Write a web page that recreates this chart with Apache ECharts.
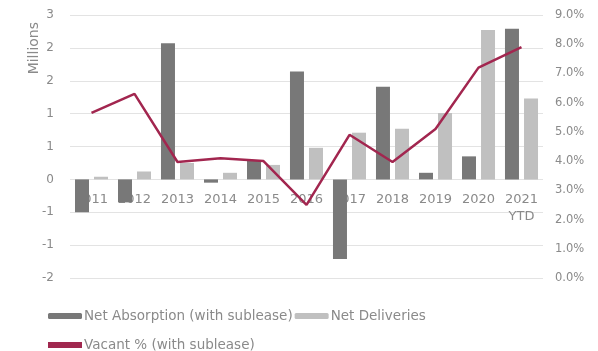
<!DOCTYPE html>
<html>
<head>
<meta charset="utf-8">
<script src="https://cdn.jsdelivr.net/npm/echarts@6/dist/echarts.min.js"></script>
<style>
  html, body { margin: 0; padding: 0; background: #fff; }
  #chart { width: 598px; height: 351px; }
</style>
</head>
<body>
<div id="chart"></div>
<script>
// Office market: absorption and deliveries (millions of sq ft) against vacancy rate
const years = ['2011', '2012', '2013', '2014', '2015', '2016', '2017', '2018', '2019', '2020', '2021\nYTD'];
const netAbsorption = [-0.5, -0.35, 2.07, -0.05, 0.28, 1.64, -1.21, 1.41, 0.1, 0.35, 2.29];
const netDeliveries = [0.04, 0.12, 0.25, 0.1, 0.22, 0.48, 0.71, 0.77, 1.01, 2.27, 1.23];
const vacantPct = [5.65, 6.3, 3.97, 4.1, 4.0, 2.5, 4.9, 3.97, 5.1, 7.2, 7.9];

// Left axis ticks run every half million; their printed labels are whole numbers
const leftTickValues = [2.5, 2, 1.5, 1, 0.5, 0, -0.5, -1, -1.5];
const leftTickLabels = ['3', '2', '2', '1', '1', '0', '-1', '-1', '-2'];

const textColor = '#8a8a8a';
const fontFamily = '"DejaVu Sans", sans-serif';

const W = 598, H = 351;
const gridBox = { left: 70, right: 55, top: 15, bottom: 73 };
const leftMin = -1.5, leftMax = 2.5;
// Lift the category axis so it sits on the zero line of the left axis
const plotHeight = H - gridBox.top - gridBox.bottom;
const zeroLift = -plotHeight * (0 - leftMin) / (leftMax - leftMin);

const chart = echarts.init(document.getElementById('chart'));
chart.setOption({
  animation: false,
  textStyle: { fontFamily: fontFamily },
  grid: gridBox,
  legend: [
    {
      left: 43, top: 304,
      itemWidth: 34, itemHeight: 6, itemGap: 2,
      textStyle: { color: textColor, fontSize: 13.5, padding: [0, 0, 0, -3] },
      data: ['Net Absorption (with sublease)', 'Net Deliveries']
    },
    {
      left: 43, top: 333,
      itemWidth: 34, itemHeight: 6, itemGap: 2,
      textStyle: { color: textColor, fontSize: 13.5, padding: [0, 0, 0, -3] },
      data: [{ name: 'Vacant % (with sublease)', icon: 'rect', itemStyle: { color: '#a0284f' } }]
    }
  ],
  graphic: [{
    type: 'text',
    left: 27, top: 22,
    rotation: Math.PI / 2,
    style: { text: 'Millions', fill: textColor, font: '14px ' + fontFamily }
  }],
  xAxis: {
    type: 'category',
    data: years,
    offset: zeroLift,
    axisLine: { show: false },
    axisTick: { show: false },
    axisLabel: { color: textColor, fontSize: 13, margin: 12, lineHeight: 17, interval: 0 }
  },
  yAxis: [
    {
      type: 'value',
      min: leftMin, max: leftMax, interval: 0.5,
      axisLine: { show: false },
      axisTick: { show: false },
      splitLine: { lineStyle: { color: '#e3e3e3', width: 1 } },
      axisLabel: {
        color: textColor, fontSize: 12, margin: 16,
        formatter: function (v) {
          const i = leftTickValues.findIndex(t => Math.abs(t - v) < 1e-9);
          return i >= 0 ? leftTickLabels[i] : '';
        }
      }
    },
    {
      type: 'value',
      min: 0, max: 9, interval: 1,
      axisLine: { show: false },
      axisTick: { show: false },
      splitLine: { show: false },
      axisLabel: {
        color: textColor, fontSize: 11.5, margin: 12,
        formatter: v => v.toFixed(1) + '%'
      }
    }
  ],
  series: [
    {
      name: 'Net Absorption (with sublease)',
      type: 'bar',
      data: netAbsorption,
      barWidth: 14,
      barGap: '36%',
      itemStyle: { color: '#787878' }
    },
    {
      name: 'Net Deliveries',
      type: 'bar',
      data: netDeliveries,
      barWidth: 14,
      itemStyle: { color: '#c0c0c0' }
    },
    {
      name: 'Vacant % (with sublease)',
      type: 'line',
      yAxisIndex: 1,
      data: vacantPct,
      showSymbol: false,
      symbol: 'none',
      lineStyle: { color: '#a2264f', width: 2.5 },
      itemStyle: { color: '#a2264f' },
      z: 5
    }
  ]
});
</script>
</body>
</html>
